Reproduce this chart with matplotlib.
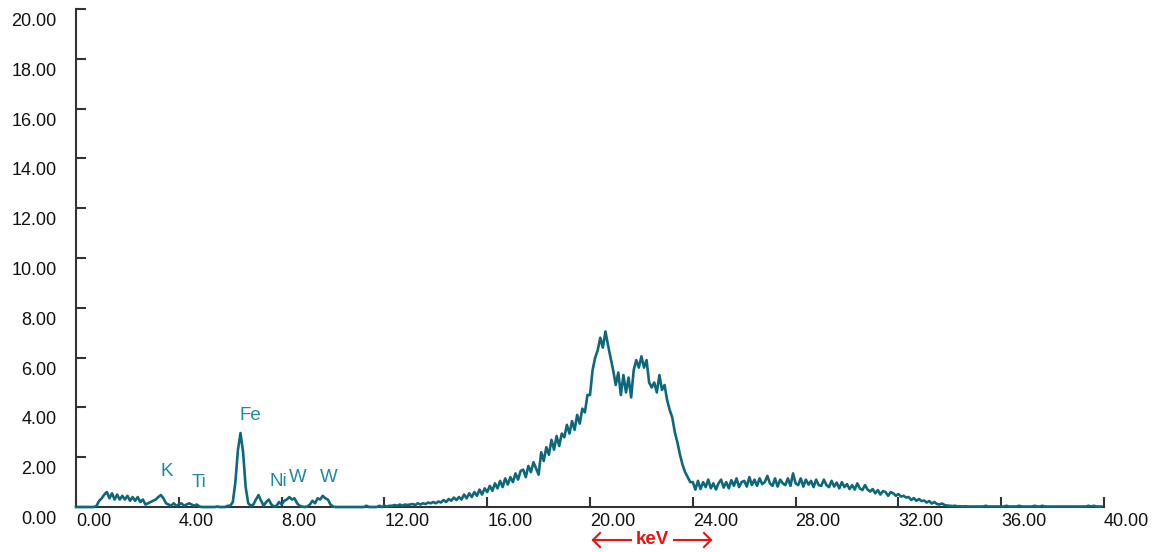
import numpy as np
import matplotlib.pyplot as plt
import matplotlib.transforms as mtransforms

# spectrum counts, one value per 0.1 keV channel
counts_low = [  # 0.0 - 11.9 keV
    0, 0, 0, 0, 0, 0, 0, 0, 0.05, 0.25,
    0.35, 0.5, 0.6, 0.35, 0.55, 0.3, 0.5, 0.3, 0.45, 0.3,
    0.45, 0.25, 0.4, 0.25, 0.4, 0.2, 0.3, 0.1, 0.15, 0.2,
    0.25, 0.3, 0.4, 0.48, 0.35, 0.15, 0.1, 0.05, 0.15, 0.05,
    0.1, 0.15, 0.05, 0.1, 0.15, 0.1, 0.05, 0.1, 0.02, 0.0,
    0, 0, 0, 0, 0, 0.02, 0, 0, 0, 0.05,
    0.05, 0.2, 1.0, 2.3, 2.97, 2.2, 0.8, 0.15, 0.05, 0.1,
    0.3, 0.48, 0.25, 0.05, 0.2, 0.3, 0.1, 0.02, 0.05, 0.2,
    0.1, 0.25, 0.3, 0.4, 0.3, 0.35, 0.15, 0.05, 0.02, 0.0,
    0.02, 0.1, 0.25, 0.15, 0.35, 0.3, 0.45, 0.35, 0.3, 0.1,
    0.02, 0, 0, 0, 0, 0, 0, 0, 0, 0,
    0, 0, 0, 0.05, 0, 0, 0, 0, 0.05, 0,
]
counts_hump = [  # 12.0 - 23.9 keV
    0.05, 0.02, 0.05, 0.05, 0.08, 0.05, 0.1, 0.05, 0.1, 0.08,
    0.1, 0.12, 0.08, 0.15, 0.1, 0.15, 0.12, 0.18, 0.15, 0.2,
    0.15, 0.22, 0.18, 0.28, 0.2, 0.32, 0.25, 0.38, 0.28, 0.4,
    0.3, 0.5, 0.35, 0.55, 0.4, 0.6, 0.45, 0.7, 0.5, 0.75,
    0.6, 0.85, 0.65, 0.95, 0.75, 1.05, 0.8, 1.15, 0.9, 1.2,
    1.0, 1.35, 1.1, 1.45, 1.5, 1.2, 1.65, 1.4, 1.8, 1.55,
    1.3, 2.2, 1.85, 2.4, 2.1, 2.7, 2.3, 2.85, 2.45, 2.95,
    2.8, 3.3, 2.95, 3.45, 3.1, 3.7, 3.35, 3.95, 3.8, 4.5,
    4.5, 5.5, 6.0, 6.3, 6.8, 6.4, 7.05, 6.5, 6.0, 5.5,
    4.9, 5.4, 4.5, 5.3, 4.6, 5.2, 4.4, 5.5, 5.9, 5.6,
    6.05, 5.6, 5.9, 5.0, 4.8, 5.0, 4.6, 5.3, 4.7, 4.9,
    4.3, 3.9, 3.6, 3.0, 2.6, 2.1, 1.7, 1.4, 1.2, 1.0,
]
counts_tail = [  # 24.0 - 39.9 keV
    1.0, 0.7, 1.05, 0.72, 1.0, 0.8, 1.1, 0.75, 0.95, 0.7,
    0.95, 1.1, 0.78, 1.0, 0.75, 1.08, 0.85, 1.15, 0.8, 1.0,
    1.05, 0.82, 1.2, 0.88, 1.1, 0.85, 1.15, 0.92, 1.0, 1.25,
    0.95, 0.85, 1.15, 0.82, 1.1, 0.95, 0.88, 1.15, 0.85, 1.35,
    0.95, 0.88, 1.15, 0.82, 1.1, 0.9, 1.05, 0.8, 1.1, 0.88,
    0.85, 1.1, 0.88, 0.8, 1.05, 0.82, 0.98, 0.75, 1.0, 0.8,
    0.92, 0.72, 0.88, 0.7, 0.95, 0.75, 0.68, 0.88, 0.7, 0.62,
    0.72, 0.55, 0.68, 0.5, 0.64, 0.6, 0.45, 0.6, 0.55, 0.45,
    0.52, 0.42, 0.45, 0.38, 0.4, 0.28, 0.36, 0.25, 0.32, 0.24,
    0.26, 0.18, 0.24, 0.14, 0.2, 0.12, 0.1, 0.14, 0.08, 0.06,
    0.05, 0.04, 0.05, 0.03, 0.03, 0.02, 0.03, 0.02, 0.02, 0.02,
    0.02, 0.02, 0.02, 0.02, 0.05, 0.02, 0.02, 0.02, 0.02, 0.02,
    0.02, 0.02, 0.05, 0.02, 0.02, 0.02, 0.02, 0.05, 0.02, 0.02,
    0.02, 0.02, 0.02, 0.05, 0.02, 0.02, 0.05, 0.02, 0.02, 0.02,
    0.02, 0.02, 0.02, 0.02, 0.02, 0.02, 0.02, 0.02, 0.02, 0.02,
    0.02, 0.02, 0.02, 0.02, 0.05, 0.02, 0.05, 0.02, 0.02, 0.02,
]

element_names = ['K', 'Ti', 'Fe', 'Ni', 'W', 'W']
element_x = [3.54, 4.79, 6.77, 7.86, 8.64, 9.84]
element_y = [1.41, 1.0, 3.69, 1.04, 1.2, 1.2]

x_ticks = [0, 4, 8, 12, 16, 20, 24, 28, 32, 36, 40]
y_ticks = [0, 2, 4, 6, 8, 10, 12, 14, 16, 18, 20]

counts = np.array(counts_low + counts_hump + counts_tail)
energy = np.arange(len(counts)) * 0.1

plt.rcParams['font.family'] = ['Liberation Sans', 'DejaVu Sans']

line_color = '#0e687c'
label_color = '#1f88a4'
red = '#ee1111'

fig = plt.figure(figsize=(11.61, 5.52), dpi=100)
ax = fig.add_axes([0.0655, 0.0815, 0.8854, 0.9022])

ax.plot(energy, counts, color=line_color, lw=1.9, clip_on=False, zorder=5)

for name, ex, ey in zip(element_names, element_x, element_y):
    ax.text(ex, ey, name, color=label_color, fontsize=13.5, ha='center', va='center')

ax.set_xlim(0, 40)
ax.set_ylim(0, 20)
ax.set_xticks(x_ticks)
ax.set_yticks(y_ticks)
ax.set_xticklabels([f'{v:.2f}' for v in x_ticks])
ax.set_yticklabels([f'{v:.2f}' for v in y_ticks])

for side in ['top', 'right']:
    ax.spines[side].set_visible(False)
for side in ['left', 'bottom']:
    ax.spines[side].set_color('#333333')
    ax.spines[side].set_linewidth(1.5)

ax.tick_params(axis='both', direction='in', length=7, width=1.5, color='#333333',
               labelsize=13, labelcolor='#111111')
ax.tick_params(axis='y', pad=14)
ax.tick_params(axis='x', pad=4)
shift_down = mtransforms.ScaledTranslation(0, -4 / 100, fig.dpi_scale_trans)
for lbl in ax.get_yticklabels():
    lbl.set_va('top')
    lbl.set_transform(lbl.get_transform() + shift_down)
for lbl in ax.get_xticklabels():
    lbl.set_ha('left')

# red "<-- keV -->" axis caption
cap_y = 1 - 540 / 552
fig.text(652 / 1161, cap_y, 'keV', color=red, fontsize=13.5, fontweight='bold',
         ha='center', va='center')
fig.add_artist(plt.Line2D([593 / 1161, 631 / 1161], [cap_y, cap_y], color=red, lw=1.5))
fig.add_artist(plt.Line2D([674 / 1161, 711 / 1161], [cap_y, cap_y], color=red, lw=1.5))
fig.add_artist(plt.Line2D([600 / 1161, 593 / 1161, 600 / 1161],
                          [cap_y + 7 / 552, cap_y, cap_y - 7 / 552], color=red, lw=1.5))
fig.add_artist(plt.Line2D([704 / 1161, 711 / 1161, 704 / 1161],
                          [cap_y + 7 / 552, cap_y, cap_y - 7 / 552], color=red, lw=1.5))

fig.savefig('out.png', dpi=100)
